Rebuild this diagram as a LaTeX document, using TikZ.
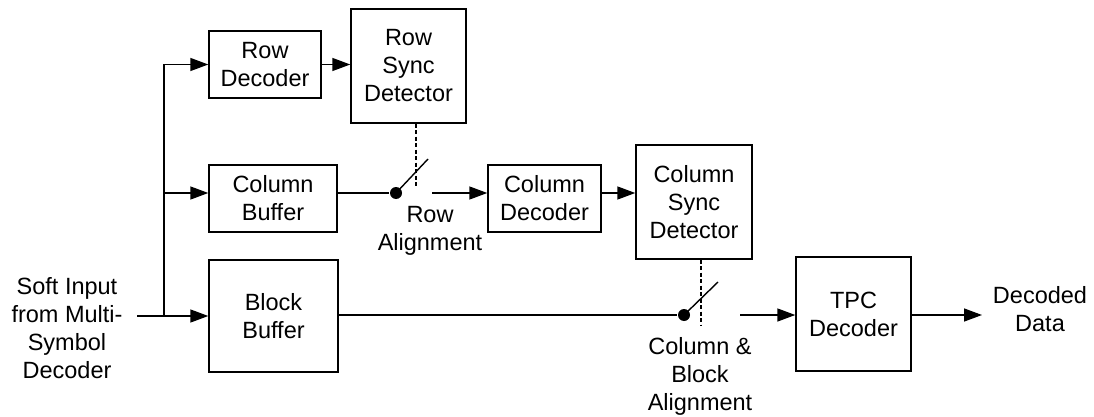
\documentclass[tikz,border=0pt]{standalone}
\usepackage{fontspec}
\setmainfont{Liberation Sans}
\usetikzlibrary{arrows.meta,positioning}

\begin{document}
\begin{tikzpicture}[%
        x=1pt, y=-1pt,
        >={Triangle[length=18pt,width=13pt]},
        line width=1.4pt,
        font=\fontsize{23.5}{28}\selectfont,
        block/.style={draw, align=center, inner sep=0pt},
        lbl/.style={align=center, inner sep=0pt},
        swdot/.style={circle, fill, minimum size=12pt, inner sep=0pt},
        ctrl/.style={line width=1.1pt, dash pattern=on 4pt off 2.5pt}
        ]
        \useasboundingbox (0,0) rectangle (1094,417);

        \node[block, minimum width=112pt, minimum height=67pt] (rowdec) at (265,64.5) {Row\\Decoder};
        \node[block, minimum width=115pt, minimum height=114pt] (rsync) at (408.5,66) {Row\\Sync\\Detector};
        \node[block, minimum width=128pt, minimum height=67pt] (colbuf) at (273,198.5) {Column\\Buffer};
        \node[block, minimum width=113pt, minimum height=67pt] (coldec) at (544.5,198.5) {Column\\Decoder};
        \node[block, minimum width=116pt, minimum height=114pt] (csync) at (694,202) {Column\\Sync\\Detector};
        \node[block, minimum width=129pt, minimum height=112pt] (blkbuf) at (273.5,316) {Block\\Buffer};
        \node[block, minimum width=115pt, minimum height=114pt] (tpc) at (853.5,314) {TPC\\Decoder};

        % labels
        \node[lbl] (insrc) at (67,328) {Soft Input\\from Multi-\\Symbol\\Decoder};
        \node[lbl] (rowal) at (430,231) {Row\\Alignment};
        \node[lbl] (blkal) at (700,376) {Column \&\\Block\\Alignment};
        \node[lbl] (outdata) at (1040,309) {Decoded\\Data};

        % switches
        \node[swdot] (sw1) at (396,193) {};
        \coordinate (sw1tip) at (428,159);
        \coordinate (sw1ctl) at (416,188);
        \coordinate (sw1out) at (432,193);
        \node[swdot] (sw2) at (684,315) {};
        \coordinate (sw2tip) at (718,282);
        \coordinate (sw2ctl) at (701,325);
        \coordinate (sw2out) at (740,315);

        \coordinate (in) at (137,316);
        \coordinate (split) at (164,316);
        \coordinate (outp) at (982,315);

        % input fan-out
        \draw (in) -- (split);
        \draw[->] (split) -- (blkbuf.west |- split);
        \draw[->] (split) |- (rowdec.west);
        \draw[->] (split |- sw1) -- (colbuf.west |- sw1);

        % row path
        \draw[->] (rowdec.east) -- (rsync.west |- rowdec.east);
        \draw (colbuf.east |- sw1) -- (sw1);
        \draw (sw1.center) -- (sw1tip);
        \draw[ctrl] (rsync.south -| sw1ctl) -- (sw1ctl);
        \draw[->] (sw1out) -- (coldec.west |- sw1out);
        \draw[->] (coldec.east |- sw1out) -- (csync.west |- sw1out);

        % block path
        \draw (blkbuf.east |- sw2) -- (sw2);
        \draw (sw2.center) -- (sw2tip);
        \draw[ctrl] (csync.south -| sw2ctl) -- (sw2ctl);
        \draw[->] (sw2out) -- (tpc.west |- sw2out);
        \draw[->] (tpc.east |- sw2out) -- (outp);
\end{tikzpicture}
\end{document}
